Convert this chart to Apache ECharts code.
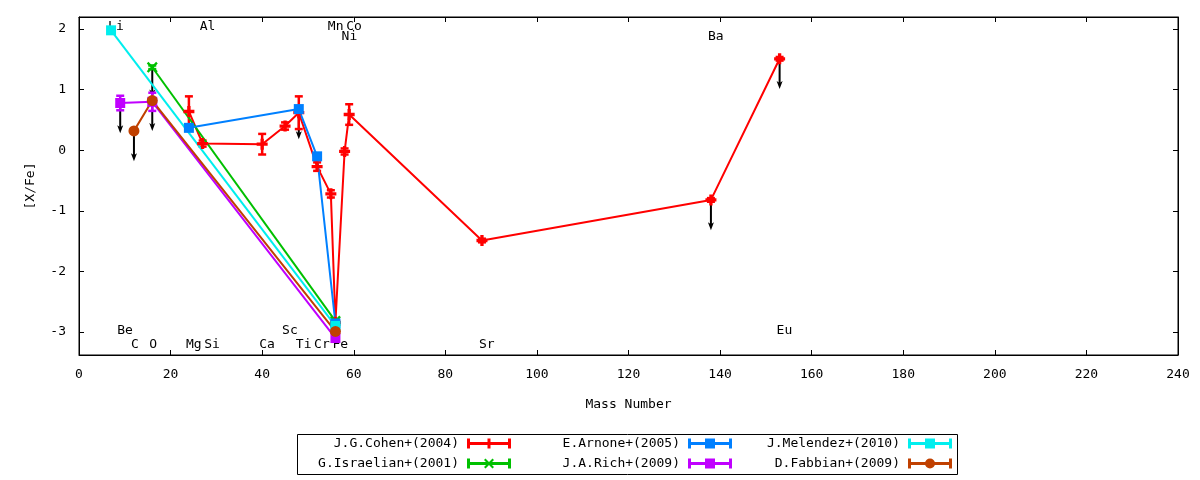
<!DOCTYPE html>
<html>
<head>
<meta charset="utf-8">
<script src="https://cdn.jsdelivr.net/npm/echarts@6/dist/echarts.min.js"></script>
<style>
html, body { margin: 0; padding: 0; background: #fff; }
#main { width: 1200px; height: 480px; }
</style>
</head>
<body>
<div id="main"></div>
<script>
// J.G.Cohen+(2004)
var cohenMass = [24, 27, 40, 45, 48, 52, 55, 56, 58, 59, 88, 138, 153];
var cohenVal = [0.64, 0.11, 0.10, 0.40, 0.62, -0.27, -0.72, -2.84, -0.02, 0.59, -1.49, -0.82, 1.51];
var cohenErr = [0.25, 0.05, 0.17, 0.06, 0.27, 0.07, 0.06, 0.04, 0.05, 0.17, 0.03, 0.03, 0.03];
// G.Israelian+(2001)
var israelMass = [16, 56];
var israelVal = [1.37, -2.82];
var israelErr = [0.03, 0.03];
// E.Arnone+(2005)
var arnoneMass = [24, 48, 52, 56];
var arnoneVal = [0.37, 0.68, -0.10, -2.86];
var arnoneErr = [0.04, 0.04, 0.04, 0.04];
// J.A.Rich+(2009)
var richMass = [9, 16, 56];
var richVal = [0.78, 0.80, -3.10];
var richErr = [0.12, 0.15, 0.05];
// J.Melendez+(2010)
var melMass = [7, 56];
var melVal = [1.98, -2.90];
var melErr = [0.02, 0.02];
// D.Fabbian+(2009)
var fabMass = [12, 16, 56];
var fabVal = [0.32, 0.82, -2.99];
var fabErr = [0.02, 0.02, 0.03];

// upper limits (black arrows)
var limMass = [9, 12, 16, 16, 48, 138, 153];
var limVal = [0.78, 0.32, 1.37, 0.82, 0.68, -0.82, 1.51];

// element names written on the plot
var elemNames = ['Li', 'Al', 'Mn', 'Co', 'Ni', 'Ba', 'Be', 'Sc', 'Eu', 'C', 'O', 'Mg', 'Si', 'Ca', 'Ti', 'Cr', 'Fe', 'Sr'];
var elemMass = [7, 27, 55, 59, 58, 138, 9, 45, 153, 12, 16, 24, 28, 40, 48, 52, 56, 88];
var elemY = [2.04, 2.04, 2.04, 2.04, 1.87, 1.87, -2.98, -2.98, -2.98, -3.21, -3.21, -3.21, -3.21, -3.21, -3.21, -3.21, -3.21, -3.21];

var FONT = '"DejaVu Sans Mono", monospace';
var ARROW = 0.5;

var plusPath = 'path://M3.5,0H6.5V3.5H10V6.5H6.5V10H3.5V6.5H0V3.5H3.5Z';
var crossPath = 'path://M0,1.5L1.5,0L5,3.5L8.5,0L10,1.5L6.5,5L10,8.5L8.5,10L5,6.5L1.5,10L0,8.5L3.5,5Z';

// legend samples: errorbar line with a marker in the middle
var keyBase = 'path://M0,0H3V3.5H41V0H44V10H41V6.5H3V10H0Z';
var keyPlus = keyBase + 'M20.5,0H23.5V3.5H27V6.5H23.5V10H20.5V6.5H17V3.5H20.5Z';
var keyCross = keyBase + 'M17,1.5L18.5,0L22,3.5L25.5,0L27,1.5L23.5,5L27,8.5L25.5,10L22,6.5L18.5,10L17,8.5L20.5,5Z';
var keySquare = keyBase + 'M17,0H27V10H17Z';
var keyCircle = keyBase + 'M17,5A5,5,0,1,1,27,5A5,5,0,1,1,17,5Z';

function errRender(color) {
  return function (params, api) {
    var x = api.value(0), y = api.value(1), e = api.value(2);
    var hi = api.coord([x, y + e]);
    var lo = api.coord([x, y - e]);
    var st = { stroke: color, lineWidth: 2.5 };
    return {
      type: 'group',
      children: [
        { type: 'line', shape: { x1: hi[0], y1: hi[1], x2: lo[0], y2: lo[1] }, style: st },
        { type: 'line', shape: { x1: hi[0] - 4, y1: hi[1], x2: hi[0] + 4, y2: hi[1] }, style: st },
        { type: 'line', shape: { x1: lo[0] - 4, y1: lo[1], x2: lo[0] + 4, y2: lo[1] }, style: st }
      ]
    };
  };
}

function dataSet(name, color, symbol, size, mass, val, err) {
  var pts = mass.map(function (m, i) { return [m, val[i], err[i]]; });
  return [
    {
      name: name, type: 'line', data: pts,
      symbol: symbol, symbolSize: size, showSymbol: true, showAllSymbol: true,
      lineStyle: { color: color, width: 2 },
      itemStyle: { color: color, borderWidth: 0 },
      emphasis: { disabled: true }
    },
    {
      name: name, type: 'custom', data: pts,
      renderItem: errRender(color)
    }
  ];
}

var series = [];

series.push({
  type: 'custom',
  data: elemMass.map(function (m, i) { return [m, elemY[i]]; }),
  renderItem: function (params, api) {
    var p = api.coord([api.value(0), api.value(1)]);
    return {
      type: 'text', x: p[0] - 3, y: p[1],
      style: { text: elemNames[params.dataIndex], fill: '#000', font: '13px ' + FONT, align: 'left', verticalAlign: 'middle' }
    };
  }
});

series.push({
  type: 'custom',
  data: limMass.map(function (m, i) { return [m, limVal[i]]; }),
  renderItem: function (params, api) {
    var a = api.coord([api.value(0), api.value(1)]);
    var b = api.coord([api.value(0), api.value(1) - ARROW]);
    return {
      type: 'group',
      children: [
        { type: 'line', shape: { x1: a[0], y1: a[1], x2: b[0], y2: b[1] - 4 }, style: { stroke: '#000', lineWidth: 2 } },
        { type: 'polygon', shape: { points: [[b[0] - 3, b[1] - 8], [b[0], b[1] - 6], [b[0] + 3, b[1] - 8], [b[0], b[1]]] }, style: { fill: '#000' } }
      ]
    };
  }
});

series = series
  .concat(dataSet('J.G.Cohen+(2004)', '#ff0000', plusPath, 11, cohenMass, cohenVal, cohenErr))
  .concat(dataSet('G.Israelian+(2001)', '#00c000', crossPath, 11, israelMass, israelVal, israelErr))
  .concat(dataSet('E.Arnone+(2005)', '#0080ff', 'rect', 10, arnoneMass, arnoneVal, arnoneErr))
  .concat(dataSet('J.A.Rich+(2009)', '#c000ff', 'rect', 10, richMass, richVal, richErr))
  .concat(dataSet('J.Melendez+(2010)', '#00eeee', 'rect', 10, melMass, melVal, melErr))
  .concat(dataSet('D.Fabbian+(2009)', '#c04000', 'circle', 11, fabMass, fabVal, fabErr));

function key(name, color, icon, right, top) {
  return {
    data: [{ name: name, icon: icon, itemStyle: { color: color } }],
    right: right, top: top, align: 'right', padding: 0,
    itemWidth: 44, itemHeight: 10, selectedMode: false,
    textStyle: { color: '#000', fontFamily: FONT, fontSize: 13, padding: [0, 3, 0, 0] }
  };
}

var tickStyle = { inside: true, length: 5, lineStyle: { color: '#000', width: 1 } };
var lineStyle = { onZero: false, lineStyle: { color: '#000', width: 1 } };
var labelStyle = { color: '#000', fontFamily: FONT, fontSize: 13 };

var chart = echarts.init(document.getElementById('main'));

var option = {
  animation: false,
  backgroundColor: '#fff',
  grid: { left: 79, right: 22, top: 17, bottom: 125, show: true, borderColor: '#000', borderWidth: 1 },
  xAxis: [{
    type: 'value', min: 0, max: 240, interval: 20, position: 'bottom',
    axisLine: lineStyle, axisTick: tickStyle, splitLine: { show: false },
    axisLabel: Object.assign({ margin: 13 }, labelStyle),
    name: 'Mass Number', nameLocation: 'middle', nameGap: 43,
    nameTextStyle: labelStyle
  }, {
    type: 'value', min: 0, max: 240, interval: 20, position: 'top',
    axisLine: lineStyle, axisTick: tickStyle, splitLine: { show: false },
    axisLabel: { show: false }
  }],
  yAxis: [{
    type: 'value', min: -3.38, max: 2.2, splitNumber: 5, position: 'left',
    axisLine: lineStyle, axisTick: tickStyle, splitLine: { show: false },
    axisLabel: Object.assign({
      margin: 13, showMinLabel: false, showMaxLabel: false,
      formatter: function (v) { return Math.abs(v - Math.round(v)) < 1e-6 ? String(Math.round(v)) : ''; }
    }, labelStyle),
    name: '[X/Fe]', nameLocation: 'middle', nameGap: 42,
    nameTextStyle: labelStyle
  }, {
    type: 'value', min: -3.38, max: 2.2, splitNumber: 5, position: 'right',
    axisLine: lineStyle, axisTick: tickStyle, splitLine: { show: false },
    axisLabel: { show: false }
  }],
  legend: [
    key('J.G.Cohen+(2004)', '#ff0000', keyPlus, 689, 437),
    key('G.Israelian+(2001)', '#00c000', keyCross, 689, 457),
    key('E.Arnone+(2005)', '#0080ff', keySquare, 468, 437),
    key('J.A.Rich+(2009)', '#c000ff', keySquare, 468, 457),
    key('J.Melendez+(2010)', '#00eeee', keySquare, 248, 437),
    key('D.Fabbian+(2009)', '#c04000', keyCircle, 248, 457)
  ],
  graphic: [{
    type: 'rect', shape: { x: 297.5, y: 434.5, width: 660, height: 40 },
    style: { fill: 'none', stroke: '#000', lineWidth: 1 }
  }],
  series: series
};

chart.setOption(option);
</script>
</body>
</html>
